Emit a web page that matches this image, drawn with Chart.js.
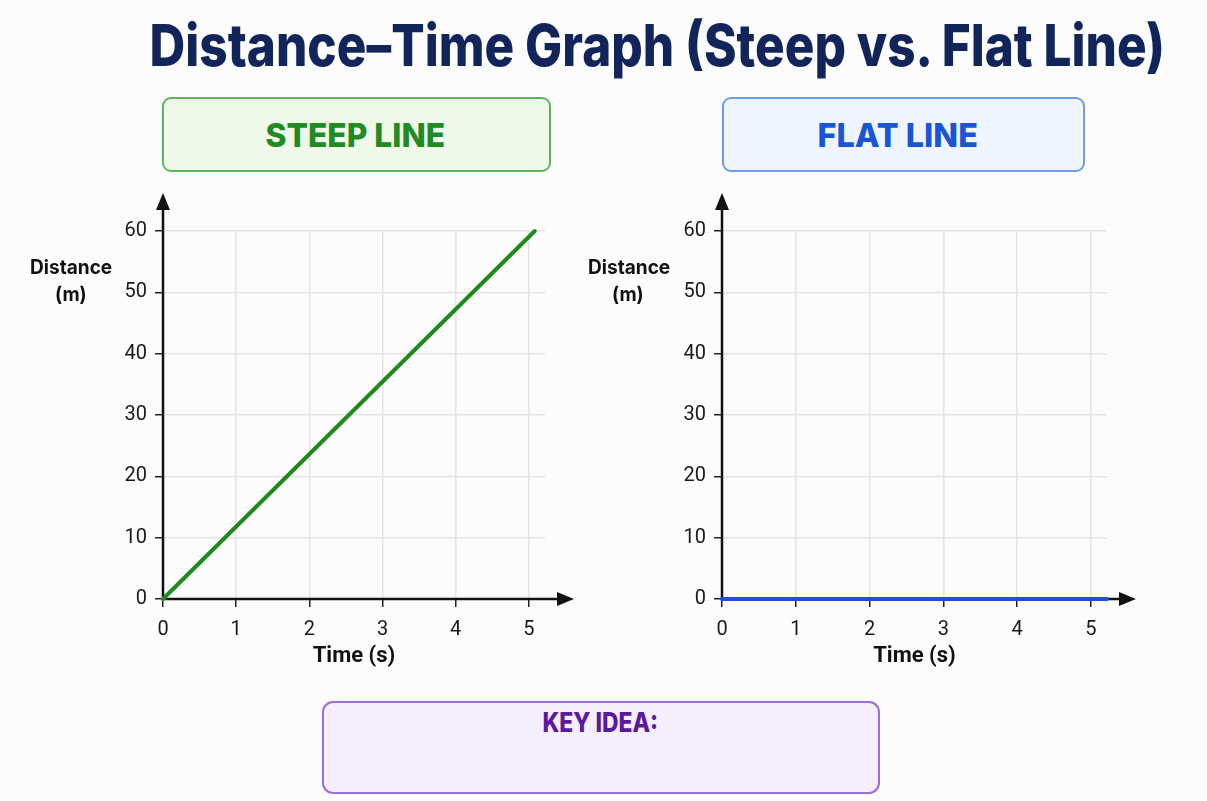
<!DOCTYPE html>
<html>
<head>
<meta charset="utf-8">
<script src="https://cdn.jsdelivr.net/npm/chart.js@4.4.1/dist/chart.umd.min.js"></script>
<style>
  body { margin: 0; width: 1207px; height: 801px; background: #fcfcfc; position: relative; overflow: hidden; font-family: Inter, Roboto, sans-serif; }
  .txt { position: absolute; white-space: nowrap; text-align: center; }
  .txt span { display: inline-block; transform-origin: center center; }
  .box { position: absolute; box-sizing: border-box; border-radius: 9px; border: 2px solid; }
  canvas { display: block; }
  .holder { position: absolute; }
</style>
</head>
<body>

<div class="box" style="left:162px; top:97px; width:389px; height:75px; border-color:#5db65a; background:#eff9ea;"></div>
<div class="box" style="left:722px; top:97px; width:363px; height:75px; border-color:#6d9de9; background:#eff5fe;"></div>
<div class="box" style="left:322px; top:701px; width:558px; height:93px; border-color:#9c6dd8; background:#f5eefc; border-radius:11px;"></div>

<div id="title" class="txt" data-w="1015" data-cx="657" data-cy="45" style="font-size:58px; font-weight:800; color:#12255a;">
  <span>Distance–Time Graph (Steep vs. Flat Line)</span></div>
<div class="txt" data-w="180" data-cx="355" data-cy="135" style="font-size:33px; font-weight:800; color:#1f8b22;">
  <span>STEEP LINE</span></div>
<div class="txt" data-w="160" data-cx="898" data-cy="135" style="font-size:33px; font-weight:800; color:#1b55d6;">
  <span>FLAT LINE</span></div>
<div class="txt" data-w="116" data-cx="600" data-cy="722" style="font-size:27px; font-weight:800; color:#5a1a9c;">
  <span>KEY IDEA:</span></div>

<div class="holder" style="left:20px; top:180px; width:560px; height:500px;"><canvas id="steepChart"></canvas></div>
<div class="holder" style="left:580px; top:180px; width:600px; height:500px;"><canvas id="flatChart"></canvas></div>

<div class="txt" data-w="82" data-cx="71" data-cy="267" style="font-size:20px; font-weight:700; color:#111;"><span>Distance</span></div>
<div class="txt" data-w="32" data-cx="71" data-cy="294" style="font-size:20px; font-weight:700; color:#111;"><span>(m)</span></div>
<div class="txt" data-w="82" data-cx="629" data-cy="267" style="font-size:20px; font-weight:700; color:#111;"><span>Distance</span></div>
<div class="txt" data-w="32" data-cx="628" data-cy="294" style="font-size:20px; font-weight:700; color:#111;"><span>(m)</span></div>

<script>
// values
const timeTicks = [0, 1, 2, 3, 4, 5];
const distanceTicks = [0, 10, 20, 30, 40, 50, 60];
const steepTime = [0, 5.08];
const steepDistance = [0, 60];
const flatTime = [0, 5.22];
const flatDistance = [0, 0];

// place and squeeze the html labels to the widths seen in the picture
const placeText = () => {
    document.querySelectorAll('.txt').forEach(el => {
        const span = el.querySelector('span');
        const fs = parseFloat(el.style.fontSize);
        el.style.lineHeight = fs + 'px';
        el.style.width = '2000px';
        el.style.left = (parseFloat(el.dataset.cx) - 1000) + 'px';
        el.style.top = (parseFloat(el.dataset.cy) - fs / 2) + 'px';
        // offsetWidth ignores the transform, so this can run more than once
        const w = span.offsetWidth;
        span.style.transform = `scaleX(${parseFloat(el.dataset.w) / w})`;
    });
};

// black axes with arrow heads
const axisArrows = {
    id: 'axisArrows',
    beforeDatasetsDraw(chart) {
        const { ctx, chartArea } = chart;
        const x0 = chart.scales.x.getPixelForValue(0);
        const y0 = chart.scales.y.getPixelForValue(0);
        const topTip = chartArea.top - 38;
        const rightTip = chartArea.right + 29;
        ctx.save();
        ctx.strokeStyle = '#111';
        ctx.fillStyle = '#111';
        ctx.lineWidth = 2.5;
        ctx.beginPath();
        ctx.moveTo(x0, y0 + 1);
        ctx.lineTo(x0, topTip + 10);
        ctx.moveTo(x0 - 1, y0);
        ctx.lineTo(rightTip - 10, y0);
        ctx.stroke();
        ctx.beginPath();
        ctx.moveTo(x0, topTip);
        ctx.lineTo(x0 - 7, topTip + 17);
        ctx.lineTo(x0 + 7, topTip + 17);
        ctx.closePath();
        ctx.fill();
        ctx.beginPath();
        ctx.moveTo(rightTip, y0);
        ctx.lineTo(rightTip - 17, y0 - 7);
        ctx.lineTo(rightTip - 17, y0 + 7);
        ctx.closePath();
        ctx.fill();
        ctx.restore();
    }
};

const makeChart = (id, times, distances, color, yWidth, padRight) => {
    const ctx = document.getElementById(id).getContext('2d');
    return new Chart(ctx, {
        type: 'line',
        data: {
            datasets: [{
                data: times.map((t, i) => ({ x: t, y: distances[i] })),
                borderColor: color,
                borderWidth: 4,
                borderCapStyle: 'round',
                pointRadius: 0,
                clip: false,
                fill: false
            }]
        },
        options: {
            responsive: true,
            maintainAspectRatio: false,
            animation: false,
            layout: { padding: { left: 0, top: 51, right: padRight, bottom: 0 } },
            plugins: { legend: { display: false }, tooltip: { enabled: false } },
            scales: {
                x: {
                    type: 'linear',
                    min: 0,
                    max: 5.22,
                    afterBuildTicks: (scale) => { scale.ticks = timeTicks.map(v => ({ value: v })); },
                    afterFit: (scale) => { scale.height = 81; },
                    ticks: { padding: 11, color: '#1a1a1a', font: { family: 'Roboto', size: 20 } },
                    grid: { color: '#e4e4e4', lineWidth: 1.5, tickColor: '#222', tickLength: 8, tickWidth: 1.5 },
                    border: { display: false },
                    title: {
                        display: true,
                        text: 'Time (s)',
                        color: '#111',
                        font: { family: 'Roboto', size: 22, weight: 'bold' },
                        padding: { top: 0, bottom: 10 }
                    }
                },
                y: {
                    min: 0,
                    max: 60,
                    afterBuildTicks: (scale) => { scale.ticks = distanceTicks.map(v => ({ value: v })); },
                    afterFit: (scale) => { scale.width = yWidth; },
                    ticks: { padding: 8, color: '#1a1a1a', font: { family: 'Roboto', size: 20 } },
                    grid: { color: '#e4e4e4', lineWidth: 1.5, tickColor: '#222', tickLength: 8, tickWidth: 1.5 },
                    border: { display: false }
                }
            }
        },
        plugins: [axisArrows]
    });
};

document.addEventListener('DOMContentLoaded', () => {
    placeText();
    makeChart('steepChart', steepTime, steepDistance, '#1d8a1d', 143, 35);
    makeChart('flatChart', flatTime, flatDistance, '#1d4fd6', 142, 73);
    document.fonts.ready.then(placeText);
});
</script>
</body>
</html>
